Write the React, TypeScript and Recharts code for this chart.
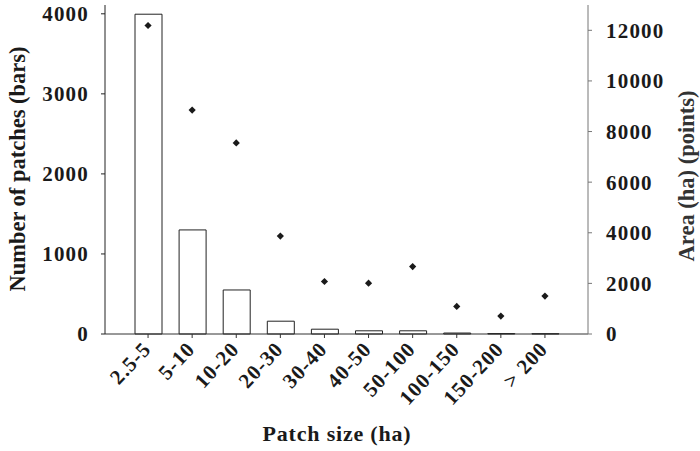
import { Bar, ComposedChart, Label, Line, XAxis, YAxis } from 'recharts'

const categories = ['2.5-5', '5-10', '10-20', '20-30', '30-40', '40-50', '50-100', '100-150', '150-200', '> 200']
const patchCounts = [3995, 1300, 550, 160, 60, 40, 40, 12, 6, 4]
const patchAreas = [12190, 8850, 7550, 3870, 2075, 2010, 2665, 1090, 710, 1500]
const leftTicks = [0, 1000, 2000, 3000, 4000]
const rightTicks = [0, 2000, 4000, 6000, 8000, 10000, 12000]

const FONT = '"Liberation Serif", "DejaVu Serif", serif'

const chartData = categories.map((size, i) => ({ size, count: patchCounts[i], area: patchAreas[i] }))

const Diamond = (props: any) => {
  const { cx, cy } = props
  if (cx == null || cy == null) return null
  const r = 3.6
  return (
    <polygon
      points={`${cx},${cy - r} ${cx + r},${cy} ${cx},${cy + r} ${cx - r},${cy}`}
      fill="#1a1a1a"
    />
  )
}

const SizeTick = (props: any) => {
  const { x, y, payload } = props
  return (
    <g transform={`translate(${x},${y})`}>
      <text
        x={4}
        y={10}
        transform="rotate(-47 4 10)"
        textAnchor="end"
        fontFamily={FONT}
        fontWeight="bold"
        fontSize={21}
        letterSpacing={1}
        fill="#1a1a1a"
      >
        {payload.value}
      </text>
    </g>
  )
}

const tickStyle = { fontFamily: FONT, fontWeight: 'bold', fontSize: 21, letterSpacing: 1.2, fill: '#1a1a1a' }

export default function App() {
  return (
    <div style={{ position: 'absolute', left: 0, top: 0, background: '#fff' }}>
      <ComposedChart
        width={700}
        height={451}
        data={chartData}
        margin={{ top: 5, right: 0, bottom: 0, left: 0 }}
      >
        <XAxis
          dataKey="size"
          height={117}
          interval={0}
          padding={{ left: 21, right: 21 }}
          tick={<SizeTick />}
          tickSize={4}
          stroke="#333"
        >
          <Label
            content={() => (
              <text
                x={337}
                y={441}
                textAnchor="middle"
                fontFamily={FONT}
                fontWeight="bold"
                fontSize={22}
                letterSpacing={0.8}
                fill="#1a1a1a"
              >
                Patch size (ha)
              </text>
            )}
          />
        </XAxis>
        <YAxis
          yAxisId="left"
          width={105}
          domain={[0, 4110]}
          ticks={leftTicks}
          tick={tickStyle}
          tickSize={4}
          tickMargin={12}
          stroke="#222"
        >
          <Label
            content={() => (
              <text
                x={25}
                y={169}
                transform="rotate(-90 25 169)"
                textAnchor="middle"
                fontFamily={FONT}
                fontWeight="bold"
                fontSize={22.5}
                fill="#1a1a1a"
              >
                Number of patches (bars)
              </text>
            )}
          />
        </YAxis>
        <YAxis
          yAxisId="right"
          orientation="right"
          width={112}
          domain={[0, 13000]}
          ticks={rightTicks}
          tick={{ ...tickStyle, textAnchor: 'start' }}
          tickSize={4}
          tickMargin={14}
          stroke="#777"
        >
          <Label
            content={() => (
              <text
                x={694}
                y={176}
                transform="rotate(-90 694 176)"
                textAnchor="middle"
                fontFamily={FONT}
                fontWeight="bold"
                fontSize={22.5}
                fill="#333"
              >
                Area (ha) (points)
              </text>
            )}
          />
        </YAxis>
        <Bar
          yAxisId="left"
          dataKey="count"
          barSize={27}
          fill="#fff"
          stroke="#222"
          strokeWidth={1}
          isAnimationActive={false}
        />
        <Line
          yAxisId="right"
          dataKey="area"
          stroke="none"
          dot={<Diamond />}
          activeDot={false}
          legendType="none"
          isAnimationActive={false}
        />
      </ComposedChart>
    </div>
  )
}
